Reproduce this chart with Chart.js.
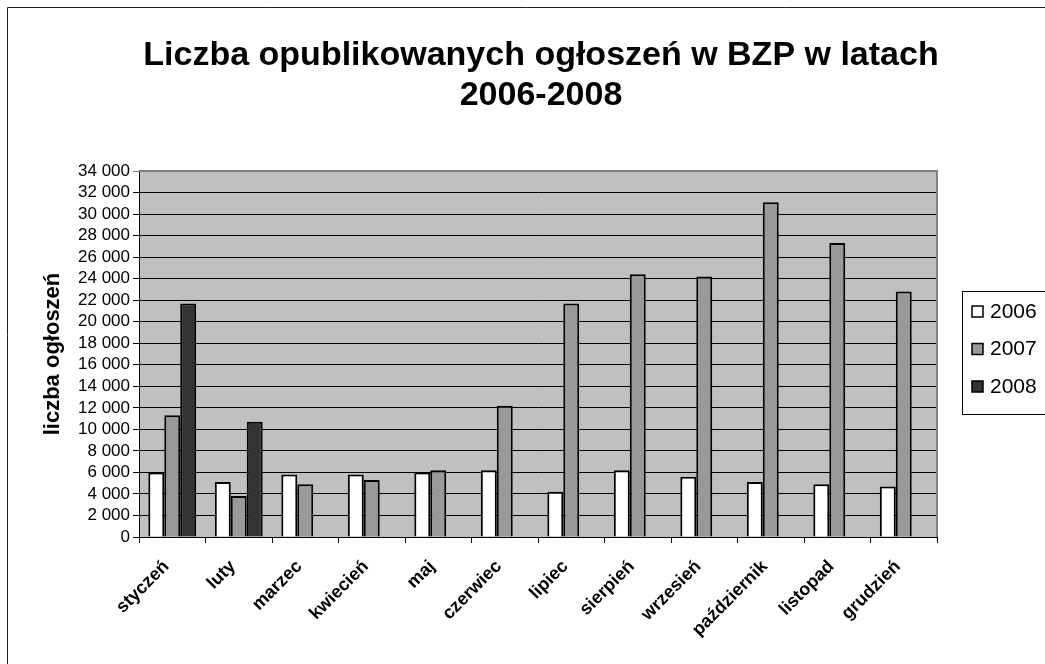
<!DOCTYPE html>
<html>
<head>
<meta charset="utf-8">
<script src="https://cdn.jsdelivr.net/npm/chart.js@4"></script>
<style>
  html, body { margin: 0; padding: 0; background: #fff; overflow: hidden; }
  #wrap { width: 1045px; height: 664px; }
</style>
</head>
<body>
<div id="wrap"><canvas id="bar-chart" width="1045" height="664"></canvas></div>
<script>
var miesiace = ['styczeń', 'luty', 'marzec', 'kwiecień', 'maj', 'czerwiec', 'lipiec',
                'sierpień', 'wrzesień', 'październik', 'listopad', 'grudzień'];
var rok2006 = [6000, 5100, 5800, 5800, 6000, 6200, 4200, 6200, 5600, 5100, 4900, 4700];
var rok2007 = [11300, 3800, 4900, 5300, 6200, 12200, 21700, 24400, 24200, 31100, 27300, 22800];
var rok2008 = [21700, 10700, null, null, null, null, null, null, null, null, null, null];
var lata = ['2006', '2007', '2008'];
var kolory = ['#ffffff', '#999999', '#333333'];
var tytul = ['Liczba opublikowanych ogłoszeń w BZP w latach', '2006-2008'];
var tytulOsiY = 'liczba ogłoszeń';
var osY = { min: 0, max: 34000, krok: 2000 };

var FONT = 'Liberation Sans, Arial, sans-serif';

function formatuj(v) {
  return String(v).replace(/\B(?=(\d{3})+(?!\d))/g, ' ');
}

// tlo wykresu, tytul, ramka, legenda
var ozdoby = {
  id: 'ozdoby',
  beforeDraw: function(chart) {
    var c = chart.ctx, a = chart.chartArea;
    c.save();
    c.fillStyle = '#ffffff';
    c.fillRect(0, 0, chart.width, chart.height);
    c.fillStyle = '#c0c0c0';
    c.fillRect(a.left, a.top, a.right - a.left, a.bottom - a.top);
    c.restore();
  },
  afterDraw: function(chart) {
    var c = chart.ctx, a = chart.chartArea;
    c.save();
    // tytul
    c.fillStyle = '#000';
    c.font = 'bold 34px ' + FONT;
    c.textAlign = 'center';
    c.textBaseline = 'middle';
    tytul.forEach(function(t, i) { c.fillText(t, 541, 56 + i * 40); });
    // ramka obszaru kreslenia
    c.strokeStyle = '#808080';
    c.lineWidth = 2;
    c.beginPath();
    c.moveTo(a.left, a.top);
    c.lineTo(a.right, a.top);
    c.lineTo(a.right, a.bottom);
    c.stroke();
    // ramka calego wykresu
    c.strokeStyle = '#222';
    c.lineWidth = 1;
    c.beginPath();
    c.moveTo(7.5, chart.height);
    c.lineTo(7.5, 7.5);
    c.lineTo(chart.width, 7.5);
    c.stroke();
    // legenda
    var lx = 962.5, ly = 291.5;
    c.strokeStyle = '#000';
    c.strokeRect(lx, ly, 120, 123);
    c.font = '21px ' + FONT;
    c.textAlign = 'left';
    c.textBaseline = 'middle';
    chart.data.datasets.forEach(function(ds, i) {
      var y = 311 + i * 37.5;
      c.fillStyle = ds.backgroundColor;
      c.fillRect(972, y - 5, 11, 11);
      c.strokeStyle = '#000';
      c.lineWidth = 1.5;
      c.strokeRect(972, y - 5, 11, 11);
      c.fillStyle = '#000';
      c.fillText(ds.label, 990, y + 1);
    });
    c.restore();
  }
};

var chartdata = {
  labels: miesiace,
  datasets: [rok2006, rok2007, rok2008].map(function(d, i) {
    return {
      label: lata[i],
      data: d,
      backgroundColor: kolory[i],
      borderColor: '#000000',
      borderWidth: 2,
      categoryPercentage: 0.72,
      barPercentage: 1.0
    };
  })
};

var ctx = document.getElementById('bar-chart');
var barGraph = new Chart(ctx, {
  type: 'bar',
  data: chartdata,
  plugins: [ozdoby],
  options: {
    responsive: false,
    animation: false,
    layout: { padding: { left: 8, right: 108, top: 171, bottom: 0 } },
    plugins: {
      legend: { display: false },
      tooltip: { enabled: false },
      title: { display: false }
    },
    scales: {
      x: {
        afterFit: function(s) { s.height = 127; },
        grid: { drawOnChartArea: false, tickLength: 6, color: '#000', offset: true },
        border: { color: '#000', width: 1 },
        ticks: {
          autoSkip: false, minRotation: 45, maxRotation: 45, padding: 13, labelOffset: -6,
          color: '#000', font: { family: FONT, size: 18, weight: 'bold' }
        }
      },
      y: {
        min: osY.min, max: osY.max,
        afterFit: function(s) { s.width = 131; },
        grid: {
          tickLength: 6,
          color: function(c) { return c.tick && c.tick.value === osY.max ? '#808080' : '#000'; }
        },
        border: { color: '#000', width: 1 },
        ticks: {
          autoSkip: false, stepSize: osY.krok, padding: 3, color: '#000',
          font: { family: FONT, size: 17 },
          callback: function(v) { return formatuj(v); }
        },
        title: {
          display: true, text: tytulOsiY, color: '#000',
          font: { family: FONT, size: 22, weight: 'bold' },
          padding: { top: 32, bottom: 0 }
        }
      }
    }
  }
});
</script>
</body>
</html>
